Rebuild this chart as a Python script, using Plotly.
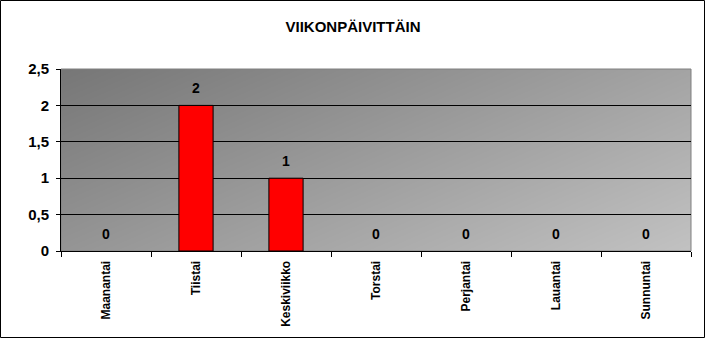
import base64, struct, zlib
import plotly.graph_objects as go

title = "VIIKONPÄIVITTÄIN"
days = ["Maanantai", "Tiistai", "Keskiviikko", "Torstai", "Perjantai", "Lauantai", "Sunnuntai"]
counts = [0, 2, 1, 0, 0, 0, 0]
y_ticks = [0, 0.5, 1, 1.5, 2, 2.5]
y_tick_text = ["0", "0,5", "1", "1,5", "2", "2,5"]

W, H = 706, 339
L, R, T, B = 61, 15, 69, 88
PW, PH = W - L - R, H - T - B


def gradient_png(w, h):
    rows = []
    for j in range(h):
        row = bytearray([0])
        for i in range(w):
            v = int(0x77 + 45 * i / (w - 1) + 30 * j / (h - 1))
            v = max(0, min(255, v))
            row += bytes((v, v, v))
        rows.append(bytes(row))
    raw = b"".join(rows)

    def chunk(tag, data):
        c = struct.pack(">I", len(data)) + tag + data
        return c + struct.pack(">I", zlib.crc32(tag + data) & 0xFFFFFFFF)

    png = b"\x89PNG\r\n\x1a\n"
    png += chunk(b"IHDR", struct.pack(">IIBBBBB", w, h, 8, 2, 0, 0, 0))
    png += chunk(b"IDAT", zlib.compress(raw, 9))
    png += chunk(b"IEND", b"")
    return "data:image/png;base64," + base64.b64encode(png).decode()


FONT = "Arial, 'Liberation Sans', sans-serif"

fig = go.Figure()
fig.add_trace(go.Bar(
    x=days, y=counts,
    marker=dict(color="#FF0000",
                line=dict(color="#000000", width=[1 if c else 0 for c in counts])),
    hoverinfo="skip",
))

annotations = [
    dict(x=d, y=c, xref="x", yref="y", text="<b>%d</b>" % c, showarrow=False,
         yanchor="bottom", yshift=7,
         font=dict(family=FONT, size=14, color="#000000"))
    for d, c in zip(days, counts)
]

fig.update_layout(
    width=W, height=H,
    margin=dict(l=L, r=R, t=T, b=B, pad=0),
    paper_bgcolor="#FFFFFF",
    plot_bgcolor="#999999",
    showlegend=False,
    bargap=0.62,
    separators=", ",
    font=dict(family=FONT, color="#000000"),
    title=dict(text="<b>" + title + "</b>", x=0.5, xanchor="center", y=1 - 27 / H, yanchor="middle",
               xref="container",
               font=dict(family=FONT, size=15, color="#000000")),
    annotations=annotations,
    images=[dict(source=gradient_png(PW, PH), xref="paper", yref="paper", x=0, y=1,
                 sizex=1, sizey=1, sizing="stretch", xanchor="left", yanchor="top", layer="below")],
    xaxis=dict(
        type="category",
        showgrid=False,
        showline=True, linecolor="#000000", linewidth=1,
        ticks="outside", tickson="boundaries", ticklen=5, tickcolor="#000000",
        tickangle=-90, ticklabelstandoff=4,
        tickfont=dict(family=FONT, size=12, color="#000000", weight="bold"),
        fixedrange=True,
    ),
    yaxis=dict(
        range=[0, 2.5],
        tickvals=y_ticks, ticktext=y_tick_text,
        showgrid=True, gridcolor="#000000", gridwidth=1,
        showline=True, linecolor="#000000", linewidth=1,
        ticks="outside", ticklen=4, tickcolor="#000000",
        ticklabelstandoff=4,
        tickfont=dict(family=FONT, size=15, color="#000000", weight="bold"),
        zeroline=False,
        fixedrange=True,
    ),
    shapes=[
        dict(type="rect", xref="paper", yref="paper", x0=0, x1=1, y0=0, y1=1,
             line=dict(color="#808080", width=1), layer="below"),
        dict(type="rect", xref="paper", yref="paper",
             x0=-(L - 0.5) / PW, x1=(W - L - 1.5) / PW,
             y0=-(B - 1.5) / PH, y1=1 + (T - 0.5) / PH,
             line=dict(color="#000000", width=1)),
    ],
)

fig.write_html("out.html")
